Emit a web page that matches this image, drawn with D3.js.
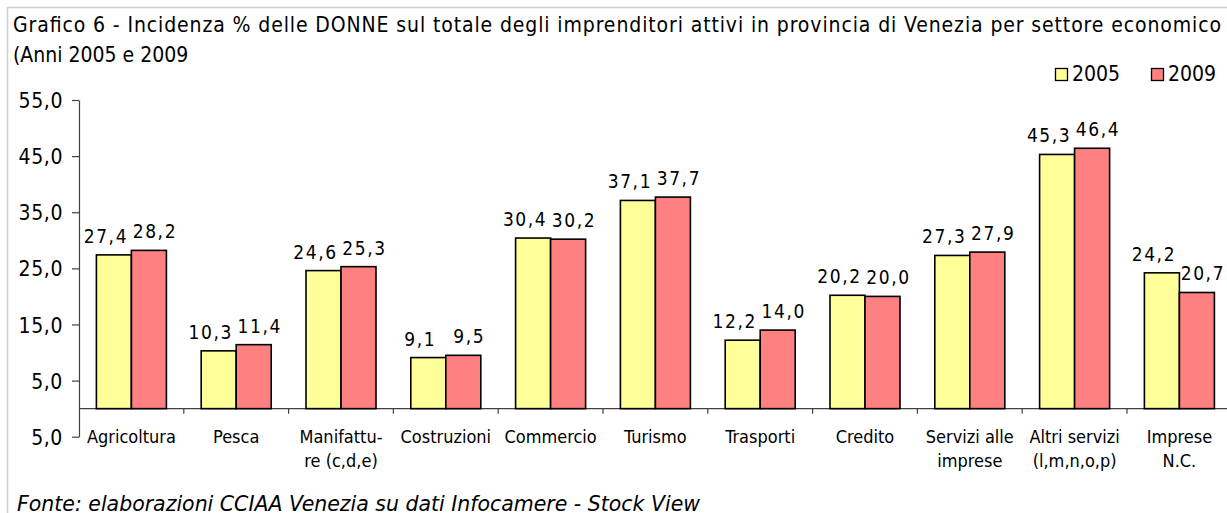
<!DOCTYPE html>
<html lang="it">
<head>
<meta charset="utf-8">
<title>Grafico 6 - Incidenza % delle DONNE</title>
<script src="https://cdn.jsdelivr.net/npm/d3@7"></script>
<style>
body { margin: 0; background: #fff; }
svg text {
  font-family: "DejaVu Sans Condensed", "DejaVu Sans", sans-serif;
  font-stretch: condensed;
  fill: #000;
}
.axis path, .axis line { stroke: #404040; stroke-width: 1.2; fill: none; }
.axis text { font-size: 21px; letter-spacing: 0.6px; }
.bar { stroke: #000; stroke-width: 1.6; }
.label { font-size: 19px; letter-spacing: 1.6px; text-anchor: middle; }
.cat { font-size: 18px; text-anchor: middle; }
</style>
</head>
<body>
<div id="chartID"></div>
<script>
// dati
var categories = ["Agricoltura", "Pesca", "Manifattu-\nre (c,d,e)", "Costruzioni", "Commercio",
  "Turismo", "Trasporti", "Credito", "Servizi alle\nimprese", "Altri servizi\n(l,m,n,o,p)", "Imprese\nN.C."];
var series = ["2005", "2009"];
var values2005 = [27.4, 10.3, 24.6, 9.1, 30.4, 37.1, 12.2, 20.2, 27.3, 45.3, 24.2];
var values2009 = [28.2, 11.4, 25.3, 9.5, 30.2, 37.7, 14.0, 20.0, 27.9, 46.4, 20.7];
var yTicks = [55, 45, 35, 25, 15, 5, -5];
var yTickLabels = ["55,0", "45,0", "35,0", "25,0", "15,0", "5,0", "5,0"];

var colors = { "2005": "#FFFF99", "2009": "#FF8080" };
var nudge = { "2005": -8, "2009": 6 };

var data = categories.map(function(c, i) {
  return { cat: c, vals: [ { s: "2005", v: values2005[i] }, { s: "2009", v: values2009[i] } ] };
});

var W = 1227, H = 513;
var svg = d3.select("#chartID").append("svg").attr("width", W).attr("height", H);

// bordo
svg.append("rect").attr("x", 7.5).attr("y", 7.5).attr("width", 1400).attr("height", 700)
  .attr("fill", "none").attr("stroke", "#cfcfcf").attr("stroke-width", 1.5);

// titolo
svg.append("text").attr("x", 13).attr("y", 32).style("font-size", "21px")
  .attr("textLength", 1208).attr("lengthAdjust", "spacing")
  .text("Grafico 6 - Incidenza % delle DONNE sul totale degli imprenditori attivi in provincia di Venezia per settore economico");
svg.append("text").attr("x", 13).attr("y", 62).style("font-size", "21px")
  .text("(Anni 2005 e 2009");

// scale
var left = 79, step = 104.8;
var x0 = d3.scaleBand().domain(categories).range([left, left + step * categories.length])
  .paddingInner(0.332).paddingOuter(0.166);
var x1 = d3.scaleBand().domain(series).range([0, x0.bandwidth()]);
var y = d3.scaleLinear().domain([-5, 55]).range([436.7, 100]);

// asse y
svg.append("g").attr("class", "axis")
  .attr("transform", "translate(" + left + ",0)")
  .call(d3.axisLeft(y).tickValues(yTicks).tickSize(7).tickSizeOuter(0).tickPadding(9)
    .tickFormat(function(d, i) { return yTickLabels[i]; }))
  .call(function(g) { g.selectAll("text").attr("dy", "0.36em"); });

// asse x (linea a zero, tacche tra le categorie)
var xa = svg.append("g").attr("class", "axis");
xa.append("line").attr("x1", left).attr("x2", W + 20).attr("y1", y(0)).attr("y2", y(0));
xa.selectAll(".tick").data(categories.slice(1)).enter().append("line")
  .attr("x1", function(d) { return x0(d) - (x0.step() - x0.bandwidth()) / 2; })
  .attr("x2", function(d) { return x0(d) - (x0.step() - x0.bandwidth()) / 2; })
  .attr("y1", y(0)).attr("y2", y(0) + 5);

// barre
var groups = svg.selectAll(".grp").data(data).enter().append("g")
  .attr("transform", function(d) { return "translate(" + x0(d.cat) + ",0)"; });

groups.selectAll("rect").data(function(d) { return d.vals; }).enter().append("rect")
  .attr("class", "bar")
  .attr("x", function(d) { return x1(d.s); })
  .attr("y", function(d) { return y(d.v); })
  .attr("width", x1.bandwidth())
  .attr("height", function(d) { return y(0) - y(d.v); })
  .attr("fill", function(d) { return colors[d.s]; });

groups.selectAll(".label").data(function(d) { return d.vals; }).enter().append("text")
  .attr("class", "label")
  .attr("x", function(d) { return x1(d.s) + x1.bandwidth() / 2 + nudge[d.s]; })
  .attr("y", function(d) { return y(d.v) - 12; })
  .text(function(d) { return d3.format(".1f")(d.v).replace(".", ","); });

// etichette categorie
groups.append("text").attr("class", "cat")
  .attr("x", x0.bandwidth() / 2)
  .attr("y", 443)
  .selectAll("tspan").data(function(d) { return d.cat.split("\n"); }).enter().append("tspan")
  .attr("x", x0.bandwidth() / 2)
  .attr("dy", function(d, i) { return i ? 24 : 0; })
  .text(function(d) { return d; });

// legenda
var legX = [1055, 1151];
var leg = svg.selectAll(".leg").data(series).enter().append("g")
  .attr("transform", function(d, i) { return "translate(" + legX[i] + ",68)"; });
leg.append("rect").attr("x", 0.5).attr("y", 0.5).attr("width", 12).attr("height", 12)
  .attr("fill", function(d) { return colors[d]; }).attr("stroke", "#000").attr("stroke-width", 1.3);
leg.append("text").attr("x", 17).attr("y", 13).style("font-size", "21px")
  .text(function(d) { return d; });

// fonte
svg.append("text").attr("x", 17).attr("y", 511).style("font-size", "22px").style("font-style", "italic")
  .attr("textLength", 683).attr("lengthAdjust", "spacingAndGlyphs")
  .text("Fonte: elaborazioni CCIAA Venezia su dati Infocamere - Stock View");
</script>
</body>
</html>
